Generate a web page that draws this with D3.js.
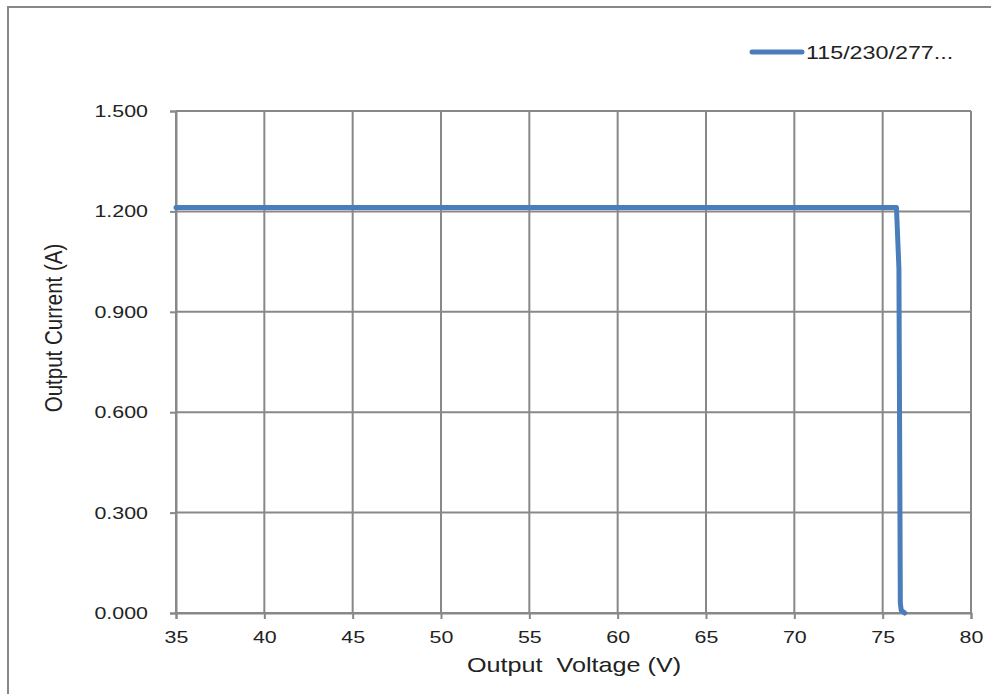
<!DOCTYPE html>
<html>
<head>
<meta charset="utf-8">
<script src="https://cdn.jsdelivr.net/npm/d3@7"></script>
<style>
  body { margin: 0; background: #fff; }
  text { font-family: "Liberation Sans", Arial, sans-serif; fill: #222; }
</style>
</head>
<body>
<div id="chart"></div>
<script>
const width = 991;
const height = 694;

// series
const seriesName = "115/230/277...";
const voltage = [35, 50, 65, 75.78, 75.92, 76.0, 76.05, 76.25];
const current = [1.212, 1.212, 1.212, 1.212, 1.03, 0.03, 0.008, 0.0];

const xTicks = [35, 40, 45, 50, 55, 60, 65, 70, 75, 80];
const yTicks = [0, 0.3, 0.6, 0.9, 1.2, 1.5];

const lineColor = "#4a7ebb";
const gridColor = "#888888";
const stretch = 1.26; // text in the picture is wider than tall

const plot = {left: 176, right: 971, top: 111, bottom: 613};

const svg = d3.select("#chart")
    .append("svg")
        .attr("width", width)
        .attr("height", height);

// outer frame, runs off the right and bottom edge
svg.append("rect")
    .attr("x", 8).attr("y", 7)
    .attr("width", 1000).attr("height", 700)
    .attr("fill", "none")
    .attr("stroke", gridColor)
    .attr("stroke-width", 2);

const x = d3.scaleLinear().domain([35, 80]).range([plot.left, plot.right]);
const y = d3.scaleLinear().domain([0, 1.5]).range([plot.bottom, plot.top]);

// grid
svg.append("g")
    .selectAll("line")
    .data(xTicks)
    .enter()
    .append("line")
        .attr("x1", d => x(d)).attr("x2", d => x(d))
        .attr("y1", plot.top).attr("y2", plot.bottom)
        .attr("stroke", gridColor)
        .attr("stroke-width", 2);

svg.append("g")
    .selectAll("line")
    .data(yTicks)
    .enter()
    .append("line")
        .attr("x1", plot.left).attr("x2", plot.right)
        .attr("y1", d => y(d)).attr("y2", d => y(d))
        .attr("stroke", gridColor)
        .attr("stroke-width", 2);

// axes, ticks drawn outward
const xAxis = svg.append("g")
    .attr("transform", "translate(0," + plot.bottom + ")")
    .call(d3.axisBottom(x).tickValues(xTicks).tickSize(6).tickPadding(8).tickFormat(d3.format("d")));

const yAxis = svg.append("g")
    .attr("transform", "translate(" + plot.left + ",0)")
    .call(d3.axisLeft(y).tickValues(yTicks).tickSize(6).tickPadding(22).tickFormat(d3.format(".3f")));

[xAxis, yAxis].forEach(ax => {
    ax.select(".domain").attr("stroke", gridColor).attr("stroke-width", 2);
    ax.selectAll(".tick line").attr("stroke", gridColor).attr("stroke-width", 2);
    ax.selectAll(".tick text")
        .attr("font-size", 17)
        .attr("font-family", "Liberation Sans, Arial, sans-serif")
        .attr("fill", "#222");
});

// widen tick labels horizontally around their anchor
xAxis.selectAll(".tick text")
    .attr("y", 0)
    .attr("dy", 0)
    .attr("transform", "translate(0,30) scale(" + stretch + ",1)");
yAxis.selectAll(".tick text")
    .attr("x", 0)
    .attr("transform", "translate(-28,0) scale(" + stretch + ",1)");

// series
const pts = voltage.map((v, i) => [v, current[i]]);
svg.append("path")
    .datum(pts)
    .attr("d", d3.line().x(d => x(d[0])).y(d => y(d[1])))
    .attr("fill", "none")
    .attr("stroke", lineColor)
    .attr("stroke-width", 5)
    .attr("stroke-linejoin", "round")
    .attr("stroke-linecap", "round");

// axis titles
svg.append("text")
    .attr("transform", "translate(574,672) scale(" + stretch + ",1)")
    .attr("text-anchor", "middle")
    .attr("font-size", 20)
    .style("white-space", "pre")
    .text("Output  Voltage (V)");

svg.append("text")
    .attr("transform", "translate(62,328) scale(1.15,1) rotate(-90)")
    .attr("text-anchor", "middle")
    .attr("font-size", 20.5)
    .text("Output Current (A)");

// legend
svg.append("line")
    .attr("x1", 752).attr("x2", 802)
    .attr("y1", 52).attr("y2", 52)
    .attr("stroke", lineColor)
    .attr("stroke-width", 5)
    .attr("stroke-linecap", "round");

svg.append("text")
    .attr("transform", "translate(806,59) scale(" + stretch + ",1)")
    .attr("font-size", 18.5)
    .text(seriesName);
</script>
</body>
</html>
